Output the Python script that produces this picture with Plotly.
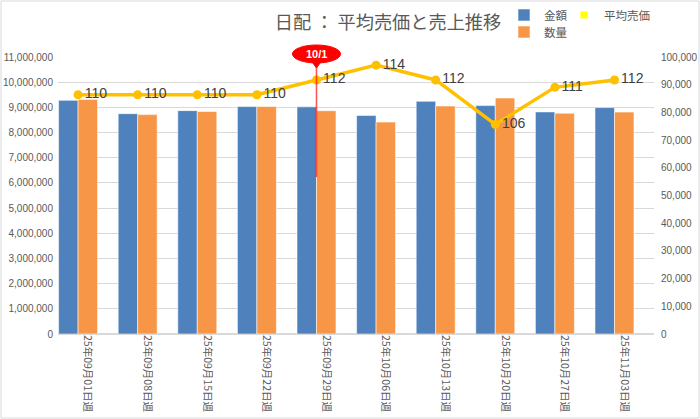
import plotly.graph_objects as go

# 週ごとの売上データ (値はグラフから読み取り)
weeks = ["25年09月01日週", "25年09月08日週", "25年09月15日週", "25年09月22日週",
         "25年09月29日週", "25年10月06日週", "25年10月13日週", "25年10月20日週",
         "25年10月27日週", "25年11月03日週"]
amount = [9280000, 8750000, 8870000, 9030000, 9020000, 8680000, 9240000, 9070000, 8820000, 8990000]
quantity = [84700, 79200, 80300, 82100, 80600, 76500, 82300, 85200, 79700, 80100]
avg_price = [110, 110, 110, 110, 112, 114, 112, 106, 111, 112]

marker_week = "25年09月29日週"
marker_text = "10/1"

GRAY = "#595959"
FONT = "Liberation Sans, Noto Sans CJK JP, sans-serif"
JP = "Noto Sans CJK JP"
L, R, T, B = 58, 46, 57, 85
W, H = 700, 419
PW, PH = W - L - R, H - T - B


def legend_at(x_px, y_px):
    # legend box placed by pixel position in the figure (x = left, y = vertical centre)
    return dict(x=(x_px - L) / PW, y=1 + (T - y_px) / PH, xanchor="left", yanchor="middle",
                font=dict(size=11.5, color=GRAY, family=JP), itemwidth=30,
                bgcolor="rgba(0,0,0,0)")


fig = go.Figure()
fig.add_trace(go.Bar(
    x=weeks, y=amount, name="金額", offset=-0.49, width=0.327,
    marker=dict(color="#4F81BD", line=dict(color="rgba(255,255,255,0.55)", width=1)),
    legend="legend",
))
fig.add_trace(go.Bar(
    x=weeks, y=quantity, name="数量", offset=-0.163, width=0.327, yaxis="y2",
    marker=dict(color="#F79646", line=dict(color="rgba(255,255,255,0.55)", width=1)),
    legend="legend3",
))
fig.add_trace(go.Scatter(
    x=weeks, y=avg_price, name="平均売価", mode="lines+markers+text",
    xaxis="x2", yaxis="y3",
    line=dict(color="#FFC000", width=3.5),
    marker=dict(color="#FFC000", size=9),
    text=[str(v) for v in avg_price], textposition="middle right",
    textfont=dict(size=14, color="#404040", family=FONT),
    showlegend=False, cliponaxis=False,
))
# legend entry: Excel shows a plain yellow square for the line series
fig.add_trace(go.Scatter(
    x=[None], y=[None], name="平均売価", mode="markers",
    marker=dict(color="#FFFF00", symbol="square", size=7),
    legend="legend2",
))

fig.update_layout(
    width=W, height=H,
    margin=dict(l=L, r=R, t=T, b=B, autoexpand=False),
    paper_bgcolor="white", plot_bgcolor="white",
    barmode="overlay",
    font=dict(family=FONT, color=GRAY),
    title=dict(text="日配 ： 平均売価と売上推移", x=388 / W, xanchor="center",
               y=1 - 22.7 / H, yanchor="middle", automargin=False,
               font=dict(size=18.2, color=GRAY, family=JP)),
    xaxis=dict(type="category", range=[-0.5, 9.5], tickangle=90, automargin=False,
               tickfont=dict(size=10.5, color=GRAY, family=JP),
               showgrid=False, showline=False, ticks=""),
    xaxis2=dict(type="category", overlaying="x", range=[-0.337, 9.663], visible=False,
                automargin=False),
    yaxis=dict(range=[0, 11000000], dtick=1000000, tickformat=",", automargin=False,
               gridcolor="#D9D9D9", zeroline=True, zerolinecolor="#D9D9D9",
               tickfont=dict(size=10, color=GRAY), ticklabelstandoff=4),
    yaxis2=dict(range=[0, 100000], dtick=10000, tickformat=",", overlaying="y",
                side="right", showgrid=False, zeroline=False, automargin=False,
                tickfont=dict(size=10, color=GRAY), ticklabelstandoff=6),
    yaxis3=dict(range=[77.7, 115.1], overlaying="y", anchor="x2", visible=False,
                automargin=False),
    legend=legend_at(504, 15),
    legend3=legend_at(504, 32),
    legend2=legend_at(564, 15),
    showlegend=True,
)

# 10/1 の吹き出し
fig.add_shape(type="circle", xref="x2", yref="paper", xsizemode="pixel", ysizemode="pixel",
              xanchor=marker_week, yanchor=1, x0=-24, x1=24, y0=-6, y1=12,
              fillcolor="#FF0000", line=dict(color="#FF0000", width=1))
fig.add_shape(type="path", xref="x2", yref="paper", xsizemode="pixel", ysizemode="pixel",
              xanchor=marker_week, yanchor=1, path="M -5 -4 L 5 -4 L 0 -11 Z",
              fillcolor="#FF0000", line=dict(color="#FF0000", width=1))
fig.add_annotation(x=marker_week, xref="x2", y=6235000, yref="y",
                   text=f"<b>{marker_text}</b>", showarrow=True, arrowhead=0,
                   arrowwidth=1.6, arrowcolor="rgba(255,0,0,0.65)", ax=0, ay=-123,
                   standoff=0, startstandoff=0,
                   font=dict(size=11, color="white", family=FONT))

# chart border
fig.add_shape(type="rect", xref="paper", yref="paper",
              x0=-(L - 1) / PW, x1=1 + (R - 1) / PW, y0=-(B - 1) / PH, y1=1 + (T - 1) / PH,
              line=dict(color="#D9D9D9", width=1), layer="below")

# page body has an 8px default margin; drop it so the chart sits at the window corner
fig.write_html("out.html", config={"displayModeBar": False},
               post_script="document.body.style.margin='0';")
